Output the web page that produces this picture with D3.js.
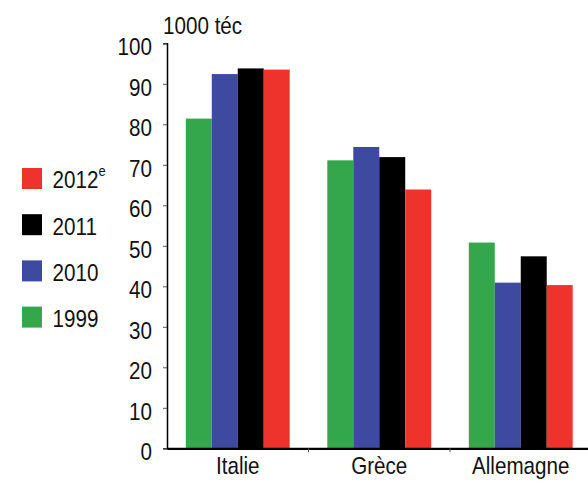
<!DOCTYPE html>
<html><head><meta charset="utf-8">
<script src="https://cdn.jsdelivr.net/npm/d3@7"></script>
<style>body{margin:0;background:#fff}svg{display:block}text{font-family:"Liberation Sans",Arial,sans-serif;fill:#111}</style>
</head><body><div id="chart"></div>
<script>
const categories = ["Italie", "Grèce", "Allemagne"];
const seriesNames = ["1999", "2010", "2011", "2012"];
const v1999 = [81.4, 71.1, 50.8];
const v2010 = [92.4, 74.4, 40.9];
const v2011 = [93.8, 71.9, 47.4];
const v2012 = [93.5, 63.9, 40.3];
const yTicks = [0,10,20,30,40,50,60,70,80,90,100];
const unitLabel = "1000 téc";
const colors = {"1999":"#34a64b","2010":"#3d4a9f","2011":"#000000","2012":"#ee322c"};
const legendOrder = ["2012","2011","2010","1999"];

const seriesVals = {"1999":v1999,"2010":v2010,"2011":v2011,"2012":v2012};
const W=588,H=481, FS="24px", SX=0.86;
const svg=d3.select("#chart").append("svg").attr("width",W).attr("height",H);
const x0=167, yZero=448.3, yTop=43.3;
const y=d3.scaleLinear().domain([0,100]).range([yZero,yTop]);
const x=d3.scaleBand().domain(categories).range([x0,x0+141.5*3]).paddingInner(0).paddingOuter(0);
const xi=d3.scaleBand().domain(seriesNames).range([18.8,141.5-18.8]);

function condense(sel){
  sel.each(function(){
    const t=d3.select(this);
    const xv=+(t.attr("x")||0);
    t.attr("x",xv/SX).attr("transform",`scale(${SX},1)`);
  });
}

// bars
seriesNames.forEach(s=>{
  svg.append("g").selectAll("rect").data(categories).join("rect")
    .attr("x",(c)=>x(c)+xi(s)).attr("width",xi.bandwidth())
    .attr("y",(c,i)=>y(seriesVals[s][i])).attr("height",(c,i)=>yZero-y(seriesVals[s][i]))
    .attr("fill",colors[s]);
});

// y axis
const ya=svg.append("g").attr("transform",`translate(${x0},0)`)
  .call(d3.axisLeft(y).tickValues(yTicks).tickSize(4).tickPadding(11));
ya.select(".domain").attr("stroke","#000").attr("stroke-width",1.5);
ya.selectAll(".tick line").attr("stroke","#555");
ya.selectAll("text").style("font-size",FS).attr("fill","#111").attr("dy","0.48em").call(condense);

// x axis
const xa=svg.append("g").attr("transform",`translate(0,${yZero})`)
  .call(d3.axisBottom(x).tickSize(0).tickPadding(9));
xa.select(".domain").attr("stroke","#000").attr("stroke-width",2.2);
xa.selectAll("text").style("font-size",FS).attr("fill","#111").attr("dy","0.71em").call(condense);
// boundary ticks
svg.append("g").selectAll("line").data(categories.slice(1)).join("line")
  .attr("x1",c=>x(c)).attr("x2",c=>x(c)).attr("y1",yZero).attr("y2",yZero+4)
  .attr("stroke","#555").attr("stroke-width",1);

// unit label
svg.append("text").attr("x",163).attr("y",34).style("font-size",FS).text(unitLabel).call(condense);

// legend
const lg=svg.append("g");
legendOrder.forEach((s,i)=>{
  const yy=168+i*46.2;
  lg.append("rect").attr("x",22).attr("y",yy).attr("width",20).attr("height",21).attr("fill",colors[s]);
  const t=lg.append("text").attr("x",52.5).attr("y",yy+20.5).style("font-size",FS).text(s);
  if(s==="2012") t.append("tspan").attr("dy",-12).style("font-size","15px").text("e");
  t.call(condense);
});
</script></body></html>
